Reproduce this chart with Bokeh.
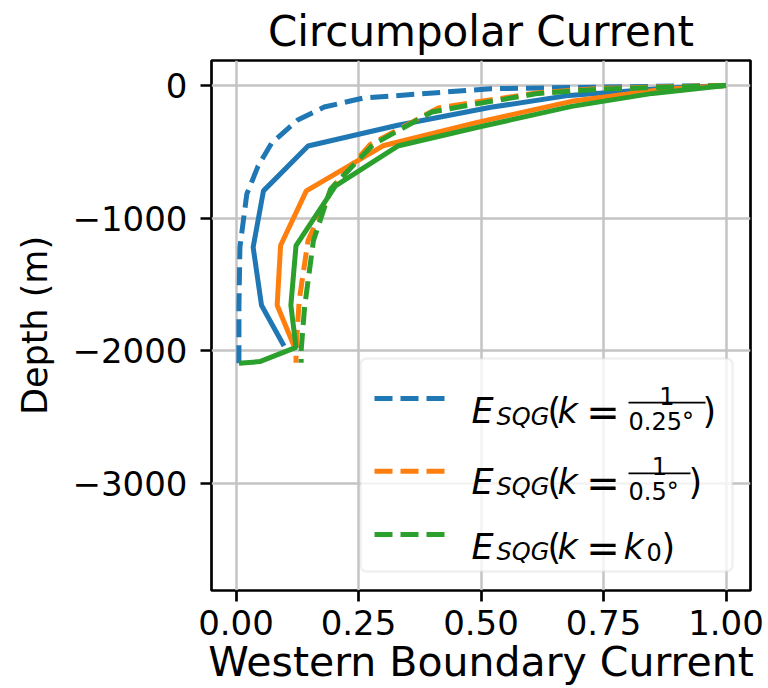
from bokeh.plotting import figure
from bokeh.models import Range1d, FixedTicker, Label, Arrow, BoxAnnotation
from bokeh.embed import file_html
from bokeh.resources import INLINE

# ---------------- data ----------------
x_ticks = [0.0, 0.25, 0.5, 0.75, 1.0]
x_tick_labels = ["0.00", "0.25", "0.50", "0.75", "1.00"]
y_ticks = [0, -1000, -2000, -3000]
y_tick_labels = ["0", "\u22121000", "\u22122000", "\u22123000"]

# solid lines
blue_solid_x = [1.0, 0.884, 0.68, 0.52, 0.33, 0.147, 0.056, 0.035, 0.052, 0.098]
blue_solid_depth = [0, -20, -75, -165, -300, -457, -795, -1220, -1657, -1965]

orange_solid_x = [1.0, 0.87, 0.685, 0.49, 0.30, 0.1435, 0.091, 0.084, 0.119]
orange_solid_depth = [0, -30, -120, -280, -455, -795, -1207, -1657, -1970]

green_solid_x = [1.0, 0.85, 0.685, 0.50, 0.33, 0.203, 0.1225, 0.112, 0.1225, 0.0486, 0.006]
green_solid_depth = [0, -60, -158, -310, -457, -757, -1207, -1657, -1975, -2082, -2095]

# dashed lines (labelled in the legend)
blue_dash_x = [1.0, 0.75, 0.52, 0.26, 0.18, 0.127, 0.073, 0.045, 0.022, 0.008, 0.006, 0.006, 0.006]
blue_dash_depth = [0, -12, -25, -95, -163, -258, -433, -608, -820, -1220, -1660, -2000, -2095]

orange_dash_x = [1.0, 0.75, 0.617, 0.481, 0.413, 0.274, 0.196, 0.147, 0.129, 0.1225, 0.1225]
orange_dash_depth = [0, -22, -55, -130, -170, -445, -770, -1170, -1620, -1995, -2090]

green_dash_x = [1.0, 0.753, 0.617, 0.481, 0.40, 0.28, 0.193, 0.158, 0.14, 0.133, 0.133]
green_dash_depth = [0, -27, -60, -145, -200, -445, -782, -1170, -1670, -1995, -2090]

series_colors = ["#1f77b4", "#ff7f0e", "#2ca02c"]
legend_denominators = ["0.25\u00b0", "0.5\u00b0", None]

# ---------------- figure ----------------
FONT = "DejaVu Sans"
p = figure(width=768, height=688, output_backend="svg", toolbar_location=None,
           x_range=Range1d(-0.05, 1.05), y_range=Range1d(-3808, 188),
           min_border_left=211, min_border_right=18, min_border_top=59,
           min_border_bottom=96, title="Circumpolar Current")
p.background_fill_color = "white"
p.border_fill_color = "white"
p.outline_line_color = "black"
p.outline_line_width = 2.7

p.title.align = "center"
p.title.text_font = FONT
p.title.text_font_size = "42px"
p.title.text_font_style = "normal"
p.title.text_color = "black"
p.title.standoff = 9

p.xaxis.ticker = FixedTicker(ticks=x_ticks)
p.yaxis.ticker = FixedTicker(ticks=y_ticks)
p.xaxis.major_label_overrides = {t: l for t, l in zip(x_ticks, x_tick_labels)}
p.yaxis.major_label_overrides = {t: l for t, l in zip(y_ticks, y_tick_labels)}
p.xgrid.ticker = FixedTicker(ticks=x_ticks)
p.ygrid.ticker = FixedTicker(ticks=y_ticks)
p.grid.grid_line_color = "#c4c4c4"
p.grid.grid_line_width = 2.5

for ax in (p.xaxis[0], p.yaxis[0]):
    ax.axis_line_color = None
    ax.major_tick_line_color = "black"
    ax.major_tick_line_width = 2.7
    ax.major_tick_out = 11
    ax.major_tick_in = 0
    ax.minor_tick_line_color = None
    ax.major_label_text_font = FONT
    ax.major_label_text_font_size = "34px"
    ax.major_label_text_color = "black"
    ax.axis_label_text_font = FONT
    ax.axis_label_text_font_style = "normal"
    ax.axis_label_text_color = "black"

p.xaxis.axis_label = "Western Boundary Current"
p.xaxis.axis_label_text_font_size = "41px"
p.xaxis.major_label_standoff = 8
p.xaxis.axis_label_standoff = 0
p.yaxis.axis_label = "Depth (m)"
p.yaxis.axis_label_text_font_size = "35px"
p.yaxis.major_label_standoff = 13
p.yaxis.axis_label_standoff = 14

LW = 5
DASH = "18 8"
p.line(blue_solid_x, blue_solid_depth, color=series_colors[0], line_width=LW)
p.line(blue_dash_x, blue_dash_depth, color=series_colors[0], line_width=LW, line_dash=DASH)
p.line(orange_solid_x, orange_solid_depth, color=series_colors[1], line_width=LW)
p.line(orange_dash_x, orange_dash_depth, color=series_colors[1], line_width=LW, line_dash=DASH)
p.line(green_solid_x, green_solid_depth, color=series_colors[2], line_width=LW)
p.line(green_dash_x, green_dash_depth, color=series_colors[2], line_width=LW, line_dash=DASH)

# ---------------- custom legend (screen units, relative to frame) ----------------
FL, FB = 211, 592  # frame left / bottom in picture pixels


def sx(v):
    return v - FL


def sy(v):
    return FB - v


p.add_layout(BoxAnnotation(left=sx(360), right=sx(732), top=sy(360), bottom=sy(573),
                           left_units="screen", right_units="screen",
                           top_units="screen", bottom_units="screen",
                           fill_color="white", fill_alpha=0.8,
                           line_color="#cccccc", line_width=2.5, border_radius=6))

row_line_y = [400, 472.7, 536]
row_base_y = [412.7, 483.3, 548.3]
bar_right = [705, 690, None]
close_x = [702, 688, 661]


def lab(x, y, text, size, italic=False, align="left"):
    p.add_layout(Label(x=sx(x), y=sy(y), x_units="screen", y_units="screen",
                       text=text, text_font=FONT, text_font_size=size,
                       text_font_style="italic" if italic else "normal",
                       text_color="black", text_align=align,
                       text_baseline="alphabetic"))


for i, color in enumerate(series_colors):
    ly = row_line_y[i]
    p.add_layout(Arrow(x_start=sx(374), y_start=sy(ly), x_end=sx(445), y_end=sy(ly),
                       start_units="screen", end_units="screen", start=None, end=None,
                       line_color=color, line_width=LW, line_dash=DASH))
    b = row_base_y[i]
    lab(471, b, "E", "35px", italic=True)
    lab(496, b + 5.6, "SQG", "24px", italic=True)
    lab(547, b, "(", "35px")
    lab(557, b, "k", "35px", italic=True)
    lab(602.5, b + 1, "=", "40px", align="center")
    if legend_denominators[i] is not None:
        bl, br = 628, bar_right[i]
        bar_y = b - 8.5
        p.add_layout(Arrow(x_start=sx(bl), y_start=sy(bar_y), x_end=sx(br), y_end=sy(bar_y),
                           start_units="screen", end_units="screen", start=None, end=None,
                           line_color="black", line_width=1.8))
        lab((bl + br) / 2, bar_y - 7, "1", "24px", align="center")
        lab(628, bar_y + 19, legend_denominators[i], "24px")
    else:
        lab(623, b, "k", "35px", italic=True)
        lab(646, b + 5.6, "0", "24px")
    lab(close_x[i], b, ")", "35px")

open("out.html", "w").write(file_html(p, INLINE))
